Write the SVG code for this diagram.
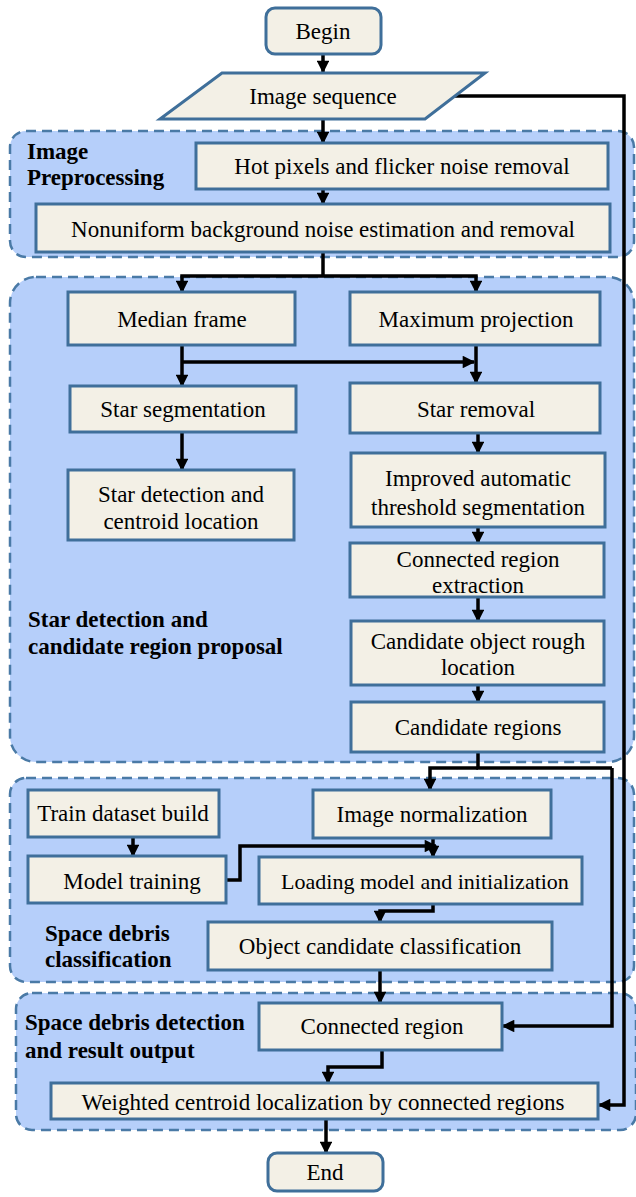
<svg xmlns="http://www.w3.org/2000/svg" width="636" height="1197" viewBox="0 0 636 1197">
<defs>
<marker id="ah" viewBox="0 0 10 10" refX="9" refY="5" markerWidth="4" markerHeight="3.6" orient="auto-start-reverse" markerUnits="strokeWidth">
<path d="M0,0 L10,5 L0,10 z" fill="#000"/>
</marker>
</defs>
<style>
.grp{fill:#b6cffa;stroke:#4a7aa6;stroke-width:2.5;stroke-dasharray:10,6}
.box{fill:#f3f0e6;stroke:#3f6f9a;stroke-width:3}
.t{font-family:"Liberation Serif","Times New Roman",serif;font-size:23px;fill:#000;text-anchor:middle;dominant-baseline:central}
.lbl{font-family:"Liberation Serif","Times New Roman",serif;font-size:23px;font-weight:bold;fill:#000}
.c{fill:none;stroke:#000;stroke-width:3.5}
.ca{fill:none;stroke:#000;stroke-width:3.5;marker-end:url(#ah)}
</style>
<rect width="636" height="1197" fill="#fff"/>
<g id="groups">
<g id="g-preproc"><rect class="grp" x="10" y="131" width="624" height="126" rx="16"/><text class="lbl" x="27" y="159">Image</text><text class="lbl" x="27" y="185">Preprocessing</text></g>
<g id="g-star"><rect class="grp" x="10" y="277" width="624" height="485" rx="26"/><text class="lbl" x="28" y="627">Star detection and</text><text class="lbl" x="28" y="654">candidate region proposal</text></g>
<g id="g-class"><rect class="grp" x="10" y="778" width="624" height="204" rx="16"/><text class="lbl" x="45" y="941">Space debris</text><text class="lbl" x="45" y="967">classification</text></g>
<g id="g-detect"><rect class="grp" x="16" y="993" width="620" height="137" rx="16"/><text class="lbl" x="25" y="1030">Space debris detection</text><text class="lbl" x="25" y="1058">and result output</text></g>
</g>
<g id="connectors">
<path class="ca" d="M323,54 V72"/>
<path class="ca" d="M323,119 V143"/>
<path class="ca" d="M323,189 V204"/>
<path class="c" d="M323,252 V276"/>
<path class="ca" d="M323,276 H182 V292"/>
<path class="ca" d="M323,276 H476 V292"/>
<path class="ca" d="M182,345 V386"/>
<path class="ca" d="M182,362 H474"/>
<path class="ca" d="M476,345 V383"/>
<path class="ca" d="M182,432 V470"/>
<path class="ca" d="M478,433 V453"/>
<path class="ca" d="M478,527 V543"/>
<path class="ca" d="M478,597 V621"/>
<path class="ca" d="M478,685 V702"/>
<path class="c" d="M478,752 V768 H612"/>
<path class="ca" d="M478,768 H430 V790"/>
<path class="ca" d="M612,768 V1026 H503"/>
<path class="ca" d="M455,96 H624 V1105 H599"/>
<path class="ca" d="M133,837 V856"/>
<path class="ca" d="M226,880 H240 V846 H436"/>
<path class="ca" d="M433,838 V857"/>
<path class="ca" d="M433,904 V911 H380 V922"/>
<path class="ca" d="M380,970 V1003"/>
<path class="ca" d="M382,1050 V1067 H328 V1083"/>
<path class="ca" d="M326,1119 V1153"/>
</g>
<g id="begin"><rect class="box" x="266" y="8" width="115" height="46" rx="9"/><text class="t" x="323" y="31">Begin</text></g>
<g id="imgseq"><polygon class="box" points="222,73 485,73 425,119 160,119"/><text class="t" x="323" y="96">Image sequence</text></g>
<g id="hotpix"><rect class="box" x="196" y="143" width="412" height="46"/><text class="t" x="402" y="166">Hot pixels and flicker noise removal</text></g>
<g id="nonuni"><rect class="box" x="36" y="204" width="574" height="48"/><text class="t" x="323" y="229">Nonuniform background noise estimation and removal</text></g>
<g id="median"><rect class="box" x="68" y="292" width="227" height="53"/><text class="t" x="182" y="319">Median frame</text></g>
<g id="maxproj"><rect class="box" x="350" y="292" width="250" height="53"/><text class="t" x="476" y="319">Maximum projection</text></g>
<g id="starseg"><rect class="box" x="70" y="386" width="226" height="46"/><text class="t" x="183" y="409">Star segmentation</text></g>
<g id="starrem"><rect class="box" x="350" y="383" width="250" height="50"/><text class="t" x="476" y="409">Star removal</text></g>
<g id="stardet"><rect class="box" x="68" y="470" width="226" height="70"/><text class="t" x="181" y="494">Star detection and</text><text class="t" x="181" y="521">centroid location</text></g>
<g id="improved"><rect class="box" x="351" y="453" width="254" height="74"/><text class="t" x="478" y="478">Improved automatic</text><text class="t" x="478" y="507">threshold segmentation</text></g>
<g id="connext"><rect class="box" x="350" y="543" width="254" height="54"/><text class="t" x="478" y="559">Connected region</text><text class="t" x="478" y="585">extraction</text></g>
<g id="candrough"><rect class="box" x="351" y="621" width="253" height="64"/><text class="t" x="478" y="641">Candidate object rough</text><text class="t" x="478" y="667">location</text></g>
<g id="candreg"><rect class="box" x="351" y="702" width="253" height="50"/><text class="t" x="478" y="727">Candidate  regions</text></g>
<g id="train"><rect class="box" x="28" y="790" width="191" height="47"/><text class="t" x="123" y="813">Train dataset build</text></g>
<g id="imgnorm"><rect class="box" x="313" y="790" width="238" height="48"/><text class="t" x="432" y="814">Image normalization</text></g>
<g id="modeltrain"><rect class="box" x="28" y="856" width="198" height="47"/><text class="t" x="132" y="881">Model training</text></g>
<g id="loading"><rect class="box" x="259" y="857" width="323" height="47"/><text class="t" x="425" y="881" style="font-size:22px">Loading model and initialization</text></g>
<g id="objcand"><rect class="box" x="208" y="922" width="344" height="48"/><text class="t" x="380" y="946">Object candidate classification</text></g>
<g id="connreg"><rect class="box" x="259" y="1003" width="243" height="47"/><text class="t" x="382" y="1026">Connected region</text></g>
<g id="weighted"><rect class="box" x="51" y="1083" width="547" height="36"/><text class="t" x="323" y="1102">Weighted centroid localization by connected regions</text></g>
<g id="end"><rect class="box" x="268" y="1153" width="115" height="38" rx="9"/><text class="t" x="325" y="1172">End</text></g>
</svg>
